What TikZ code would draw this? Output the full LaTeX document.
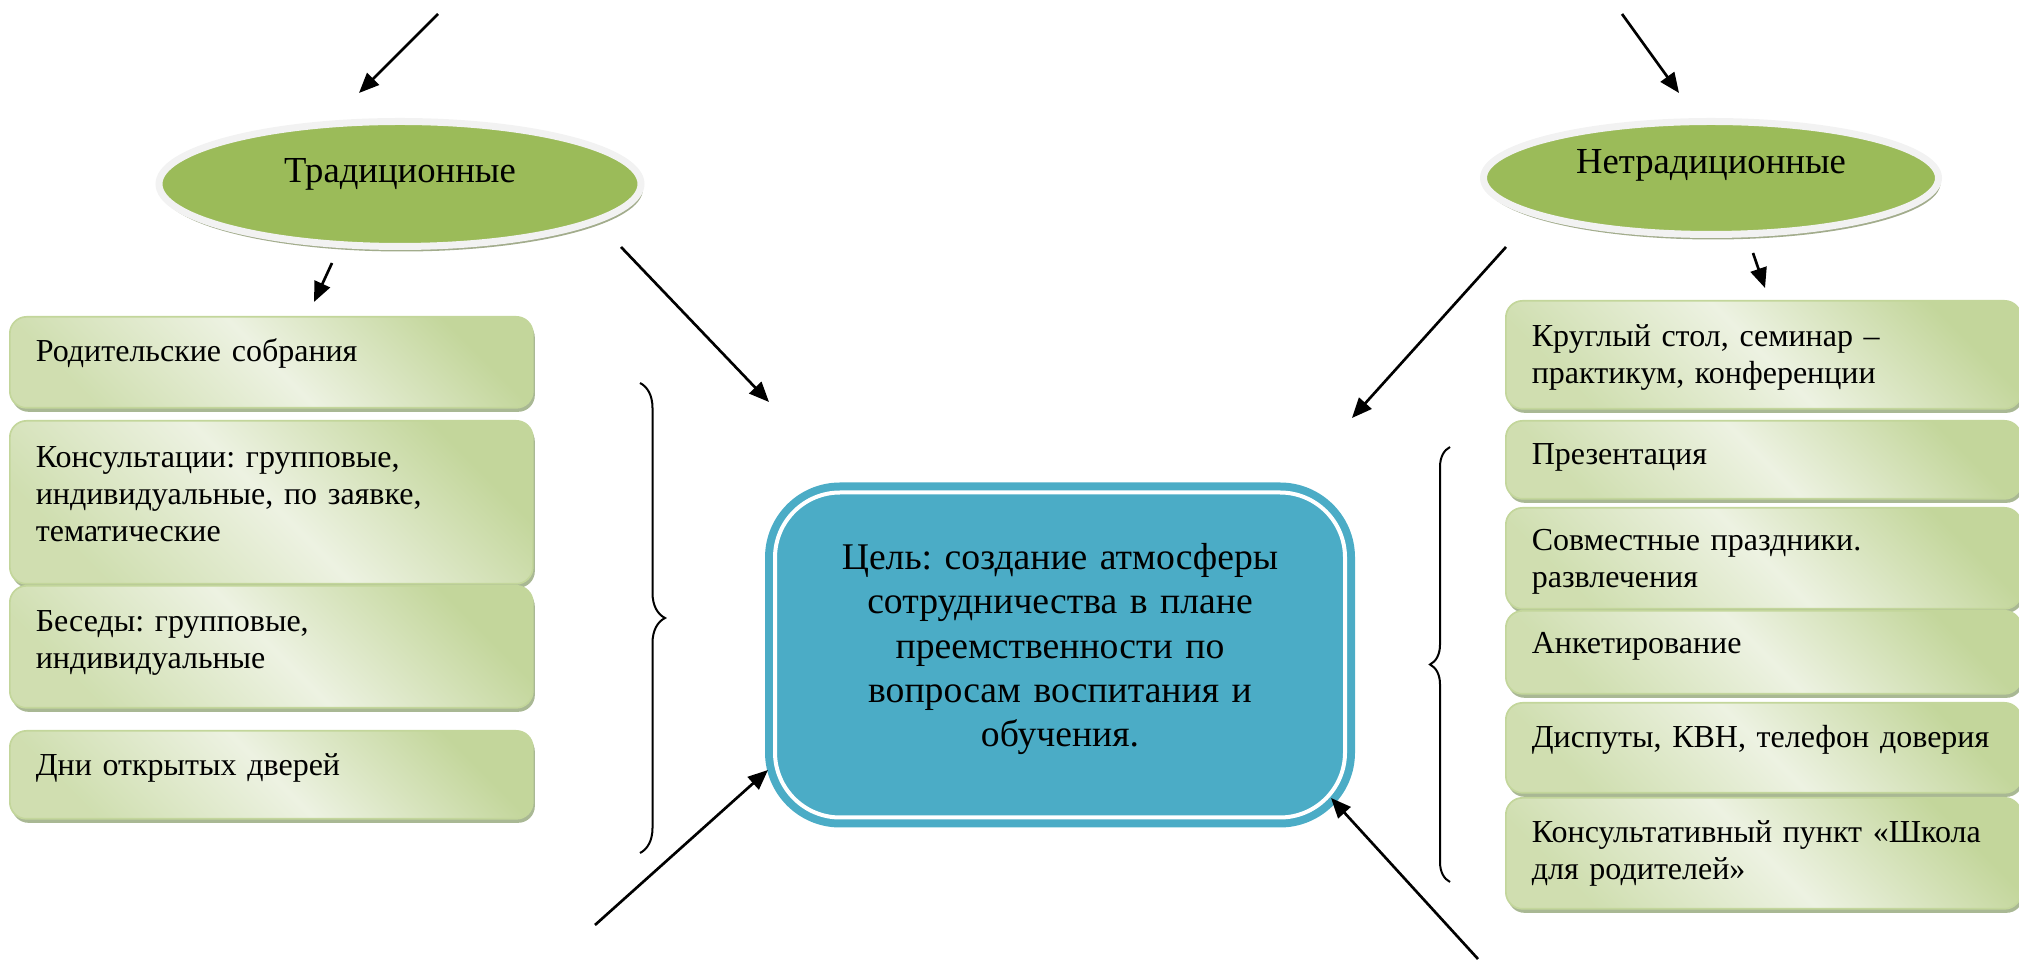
\documentclass[tikz,border=0pt]{standalone}
\usepackage{fontspec}
\setmainfont{Liberation Serif}
\usetikzlibrary{shapes.geometric, shadows, arrows.meta, decorations.pathreplacing}
\frenchspacing

\definecolor{olive}{HTML}{9BBB59}
\definecolor{rim}{HTML}{F2F2F2}
\definecolor{oliveshadow}{HTML}{A2AC8C}
\definecolor{boxdark}{HTML}{C3D69B}
\definecolor{boxlight}{HTML}{EDF2E2}
\definecolor{boxshadow}{HTML}{A9B894}
\definecolor{aqua}{HTML}{4BACC6}

\tikzset{
  kind/.style={ellipse, fill=olive, draw=rim, line width=2.1pt, inner sep=0pt,
    font=\fontsize{11}{13}\selectfont,
    drop shadow={shadow xshift=0.6pt, shadow yshift=-1.5pt, fill=oliveshadow, opacity=1}},
  form/.style={rectangle, rounded corners=5pt, draw=boxdark, line width=0.5pt,
    top color=boxdark, bottom color=boxdark!70!boxlight, middle color=boxlight, shading angle=-45,
    drop shadow={shadow xshift=0.6pt, shadow yshift=-1.2pt, fill=boxshadow, opacity=1},
    anchor=north west, inner ysep=0pt, inner xsep=7.8pt, align=left,
    font=\fontsize{9.6}{11.1}\selectfont},
  goal/.style={rectangle, rounded corners=19.5pt, fill=aqua, draw=aqua, double=white,
    double distance=1.2pt, line width=2.4pt, minimum width=171pt, minimum height=97.5pt,
    inner sep=0pt, text width=165pt, text height=9pt, text depth=60.3pt, align=center,
    font=\fontsize{11.3}{13.3}\selectfont},
  link/.style={-{Triangle[length=6pt,width=5pt]}, line width=0.8pt},
  curly/.style={decorate, decoration={brace, amplitude=#1}, line width=0.6pt}
}

\begin{document}
\begin{tikzpicture}[x=0.3pt, y=-0.3pt] %%% one unit = one pixel of the layout, y runs down
  \useasboundingbox (0,0) rectangle (2019,962);

  %%% the two kinds of forms
  \node[kind, minimum width=144.6pt, minimum height=37.5pt, text height=8pt, text depth=9pt] (trad) at (400,184) {Традиционные};
  \node[kind, minimum width=136.5pt, minimum height=33.9pt, text height=8pt, text depth=10.6pt] (nontrad) at (1711,178) {Нетрадиционные};

  %%% traditional forms
  \node[form, text width=141.3pt, text height=13.5pt, text depth=13.8pt] (meet) at (9,316) {Родительские собрания};
  \node[form, text width=141.3pt, text height=14.1pt, text depth=34.8pt] (consult) at (9,420) {Консультации: групповые,\\индивидуальные, по заявке,\\тематические};
  \node[form, text width=141.3pt, text height=13.8pt, text depth=22.8pt] (talk) at (9,585) {Беседы: групповые,\\индивидуальные};
  \node[form, text width=141.3pt, text height=13.5pt, text depth=12.9pt] (opendays) at (9,730) {Дни открытых дверей};

  %%% non-traditional forms
  \node[form, text width=139pt, text height=13.8pt, text depth=18.6pt] (table) at (1505,300) {Круглый стол, семинар --\\практикум, конференции};
  \node[form, text width=139pt, text height=13.2pt, text depth=10.2pt] (present) at (1505,420) {Презентация};
  \node[form, text width=139pt, text height=12.9pt, text depth=17.4pt] (holiday) at (1505,507) {Совместные праздники.\\развлечения};
  \node[form, text width=139pt, text height=12.9pt, text depth=12pt] (survey) at (1505,610) {Анкетирование};
  \node[form, text width=139pt, text height=13.5pt, text depth=13.5pt] (dispute) at (1505,702) {Диспуты, КВН, телефон доверия};
  \node[form, text width=139pt, text height=13.5pt, text depth=19.8pt] (school) at (1505,797) {Консультативный пункт «Школа\\для родителей»};

  %%% the aim in the middle
  \node[goal] (aim) at (1060,655) {Цель: создание атмосферы\\сотрудничества в плане\\преемственности по\\вопросам воспитания и\\обучения.};

  %%% braces
  \draw[curly=7.5pt] (640,383) -- (640,853); %%% left group
  \draw[curly=6pt] (1450,882) -- (1450,447); %%% right group

  %%% arrow ends
  \coordinate (tl0) at (438,14);   \coordinate (tl1) at (359,93);
  \coordinate (tr0) at (1622,14);  \coordinate (tr1) at (1679,93);
  \coordinate (ld0) at (332,263);  \coordinate (ld1) at (314,302);
  \coordinate (rd0) at (1753,253); \coordinate (rd1) at (1765,288);
  \coordinate (lc0) at (621,247);  \coordinate (lc1) at (769,402);
  \coordinate (rc0) at (1506,247); \coordinate (rc1) at (1352,418);
  \coordinate (bl0) at (595,925);  \coordinate (bl1) at (768,770);
  \coordinate (br0) at (1478,959); \coordinate (br1) at (1331,798);

  \draw[link] (tl0) -- (tl1);
  \draw[link] (tr0) -- (tr1);
  \draw[link] (ld0) -- (ld1);
  \draw[link] (rd0) -- (rd1);
  \draw[link] (lc0) -- (lc1);
  \draw[link] (rc0) -- (rc1);
  \draw[link] (bl0) -- (bl1);
  \draw[link] (br0) -- (br1);
\end{tikzpicture}
\end{document}
